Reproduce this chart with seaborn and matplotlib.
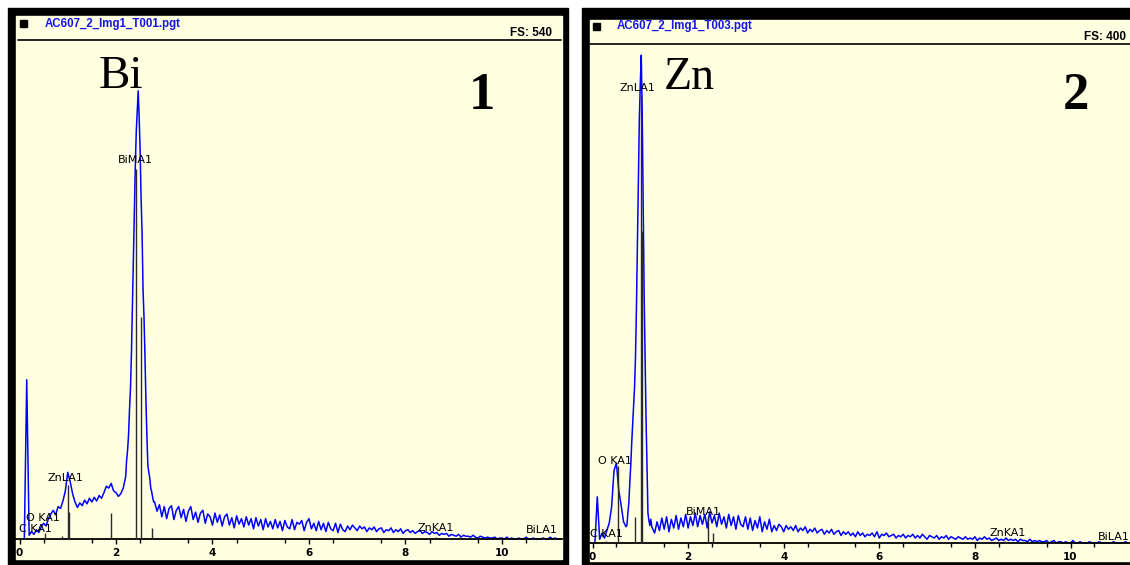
import numpy as np
import matplotlib
matplotlib.use("Agg")
import matplotlib.pyplot as plt
import seaborn as sns
from matplotlib.patches import Rectangle

sns.set_theme(style="white")
plt.rcParams['font.family'] = ['DejaVu Sans']
plt.rcParams['text.color'] = 'black'
plt.rcParams['xtick.color'] = 'black'
plt.rcParams['xtick.labelcolor'] = 'black'

# ---- spectrum 1 (Bi), counts, segments = (start keV, step keV, counts)
bi_seg_start = [0.10, 2.20, 2.80]
bi_seg_step = [0.05, 0.02, 0.05]
bi_counts_low = [0, 172, 4, 8, 5, 10, 7, 13, 17, 14,
                 22, 27, 31, 26, 35, 33, 41, 52, 72, 62,
                 49, 40, 34, 39, 36, 42, 38, 44, 40, 45,
                 41, 47, 44, 50, 57, 55, 60, 52, 50, 46,
                 49, 55]
bi_counts_peak = [67, 85, 96, 112, 140, 162, 200, 252, 300, 352,
                  402, 440, 462, 484, 455, 420, 368, 332, 270, 240,
                  198, 150, 112, 80, 72, 66, 55, 51, 45, 40]
bi_counts_tail = [40, 30, 37, 24, 35, 22, 33, 36, 21, 31,
                  35, 23, 32, 19, 30, 35, 21, 29, 18, 28,
                  31, 17, 27, 24, 15, 28, 18, 26, 14, 24,
                  27, 15, 23, 12, 25, 16, 22, 13, 24, 15,
                  22, 11, 23, 14, 21, 10, 22, 13, 19, 11,
                  21, 12, 19, 9, 20, 13, 11, 21, 10, 18,
                  16, 20, 9, 18, 22, 11, 17, 9, 19, 10,
                  17, 8, 18, 11, 9, 17, 7, 16, 10, 8,
                  14, 10, 15, 12, 9, 14, 11, 13, 8, 12,
                  10, 13, 8, 11, 12, 7, 10, 9, 12, 7,
                  10, 8, 11, 6, 9, 10, 7, 9, 6, 8,
                  9, 6, 8, 7, 5, 8, 6, 7, 4, 6,
                  5, 6, 3, 5, 4, 3, 5, 2, 4, 3,
                  3, 2, 4, 2, 1, 3, 2, 1, 2, 1,
                  1, 2, 0, 1, 1, 0, 2, 0, 1, 0,
                  0, 1, 0, 0, 2, 0, 0, 1, 0, 0,
                  0, 1, 0, 0, 2, 0, 1, 0, 0]
bi_segments = [bi_counts_low, bi_counts_peak, bi_counts_tail]

# marker lines (energy keV, height counts)
bi_line_e = [0.277, 0.525, 0.884, 1.012, 1.034, 1.904, 2.423, 2.526, 2.739, 8.63, 10.84]
bi_line_h = [1, 7, 3, 58, 29, 28, 400, 240, 12, 2, 2]
bi_labels = ["C KA1", "O KA1", "ZnLA1", "BiMA1", "ZnKA1", "BiLA1"]
bi_label_e = [0.34, 0.48, 0.96, 2.40, 8.63, 10.83]
bi_label_c = [11, 23, 66, 409, 12, 10]

# ---- spectrum 2 (Zn)
zn_seg_start = [0.05, 0.72, 1.30]
zn_seg_step = [0.05, 0.02, 0.05]
zn_counts_low = [0, 37, 3, 8, 4, 10, 16, 29, 58, 64,
                 42, 30, 17, 13]
zn_counts_peak = [14, 24, 32, 48, 62, 80, 95, 110, 125, 150,
                  190, 240, 290, 340, 368, 391, 345, 275, 200, 150,
                  100, 60, 24, 18, 14, 19, 13]
zn_counts_tail = [8, 17, 10, 20, 11, 21, 9, 19, 12, 22,
                  11, 20, 13, 23, 12, 21, 14, 24, 13, 22,
                  15, 23, 12, 25, 16, 22, 13, 24, 15, 21,
                  12, 23, 14, 21, 11, 22, 15, 13, 21, 11,
                  20, 10, 18, 12, 21, 9, 17, 11, 19, 9,
                  14, 10, 15, 13, 9, 14, 11, 13, 10, 14,
                  9, 12, 10, 13, 8, 11, 9, 12, 8, 10,
                  11, 7, 10, 8, 11, 7, 9, 10, 6, 9,
                  7, 9, 6, 8, 5, 9, 6, 8, 5, 7,
                  6, 8, 5, 9, 4, 7, 6, 8, 5, 6,
                  7, 4, 6, 5, 7, 4, 6, 5, 7, 4,
                  6, 4, 7, 5, 3, 6, 5, 4, 6, 3,
                  5, 4, 6, 3, 5, 4, 3, 5, 4, 3,
                  5, 3, 4, 3, 5, 2, 4, 3, 5, 3,
                  4, 2, 3, 4, 2, 3, 2, 4, 2, 3,
                  2, 3, 1, 3, 2, 2, 1, 3, 1, 2,
                  1, 2, 1, 1, 2, 0, 1, 2, 0, 1,
                  1, 0, 1, 0, 0, 2, 0, 0, 1, 0,
                  0, 0, 1, 0, 0, 0, 1, 0, 0, 0,
                  0, 0, 1, 0, 0, 0, 0, 1, 0]
zn_segments = [zn_counts_low, zn_counts_peak, zn_counts_tail]

zn_line_e = [0.277, 0.525, 0.884, 1.012, 1.034, 2.423, 2.526, 8.63, 10.84]
zn_line_h = [2, 62, 21, 359, 250, 22, 8, 2, 1]
zn_labels = ["C KA1", "O KA1", "ZnLA1", "BiMA1", "ZnKA1", "BiLA1"]
zn_label_e = [0.30, 0.47, 0.93, 2.31, 8.69, 10.91]
zn_label_c = [7, 66, 365, 25, 8, 5]

cream = "#FFFFE1"
blue = "#0000FF"


def channels(starts, steps, segs):
    e = np.concatenate([s + st * np.arange(len(v)) for s, st, v in zip(starts, steps, segs)])
    c = np.concatenate([np.array(v, dtype=float) for v in segs])
    return e, c


fig = plt.figure(figsize=(11.3, 5.65), dpi=100)
fig.patch.set_facecolor("white")
W, H = 1130, 565

bg = fig.add_axes([0, 0, 1, 1])
bg.set_xlim(0, W)
bg.set_ylim(H, 0)
bg.axis("off")

# frames
bg.add_patch(Rectangle((8, 8), 560, 557, color="black"))
bg.add_patch(Rectangle((16, 16), 546, 543, color=cream))
bg.add_patch(Rectangle((582, 8), 548, 557, color="black"))
bg.add_patch(Rectangle((590, 20), 540, 541, color=cream))

# headers
bg.add_patch(Rectangle((20, 19.5), 7, 7, color="black"))
bg.text(45, 23.5, "AC607_2_Img1_T001.pgt", color="#1414E6", fontsize=8.3,
        fontweight="bold", family="Liberation Sans", ha="left", va="center")
bg.text(552, 33.5, "FS: 540", fontsize=8.5, fontweight="bold",
        family="Liberation Sans", ha="right", va="center", color="black")
bg.plot([18, 561], [39.5, 39.5], color="black", lw=1.2)

bg.add_patch(Rectangle((592.5, 22.5), 7.5, 7.5, color="black"))
bg.text(617, 26.5, "AC607_2_Img1_T003.pgt", color="#1414E6", fontsize=8.3,
        fontweight="bold", family="Liberation Sans", ha="left", va="center")
bg.text(1126, 37.5, "FS: 400", fontsize=8.5, fontweight="bold",
        family="Liberation Sans", ha="right", va="center", color="black")
bg.plot([590, 1130], [43.5, 43.5], color="black", lw=1.2)

# big labels
bg.text(121, 88, "Bi", family="Liberation Serif", fontsize=34, ha="center",
        va="baseline", color="black")
bg.text(482, 109, "1", family="Liberation Serif", fontsize=38, fontweight="bold",
        ha="center", va="baseline", color="black")
bg.text(689, 89, "Zn", family="Liberation Serif", fontsize=33, ha="center",
        va="baseline", color="black")
bg.text(1076, 109, "2", family="Liberation Serif", fontsize=38, fontweight="bold",
        ha="center", va="baseline", color="black")


def spectrum_axes(x0, x1, y_top, y_bot, e0_px, kev_px, base_px, cnt_px):
    ax = fig.add_axes([x0 / W, 1 - y_bot / H, (x1 - x0) / W, (y_bot - y_top) / H])
    ax.set_xlim((x0 - e0_px) / kev_px, (x1 - e0_px) / kev_px)
    ax.set_ylim((base_px - y_bot) / cnt_px, (base_px - y_top) / cnt_px)
    ax.patch.set_visible(False)
    for s in ["top", "left", "right"]:
        ax.spines[s].set_visible(False)
    ax.spines["bottom"].set_position(("data", 0))
    ax.spines["bottom"].set_color("black")
    ax.spines["bottom"].set_linewidth(1.3)
    ax.set_yticks([])
    ax.set_xticks([0, 2, 4, 6, 8, 10])
    ax.set_xticks(np.arange(0.5, 11.5, 1.0), minor=True)
    ax.tick_params(axis="x", which="major", direction="out", length=3.5, width=1,
                   color="black", labelcolor="black", pad=3, labelsize=7.5, bottom=True)
    ax.tick_params(axis="x", which="minor", direction="out", length=3, width=1,
                   color="black", bottom=True)
    for t in ax.get_xticklabels():
        t.set_fontweight("bold")
    return ax


panels = [
    (spectrum_axes(16, 562, 40, 559, 19.5, 48.25, 539, 500 / 540),
     channels(bi_seg_start, bi_seg_step, bi_segments),
     bi_line_e, bi_line_h, bi_labels, bi_label_e, bi_label_c),
    (spectrum_axes(590, 1130, 44, 561, 592.5, 47.8, 543, 499 / 400),
     channels(zn_seg_start, zn_seg_step, zn_segments),
     zn_line_e, zn_line_h, zn_labels, zn_label_e, zn_label_c),
]

for ax, (e, c), le, lh, labs, lx, ly in panels:
    sns.lineplot(x=e, y=c, ax=ax, color=blue, linewidth=1.1, estimator=None, zorder=2)
    ax.vlines(le, 0, lh, color="#2a2a2a", linewidth=1.0, zorder=3)
    for t, x, y in zip(labs, lx, ly):
        ax.text(x, y, t, fontsize=8, ha="center", va="center", color="black", zorder=4)
    ax.set_xlabel("")
    ax.set_ylabel("")

fig.savefig("out.png", dpi=100, facecolor="white")
